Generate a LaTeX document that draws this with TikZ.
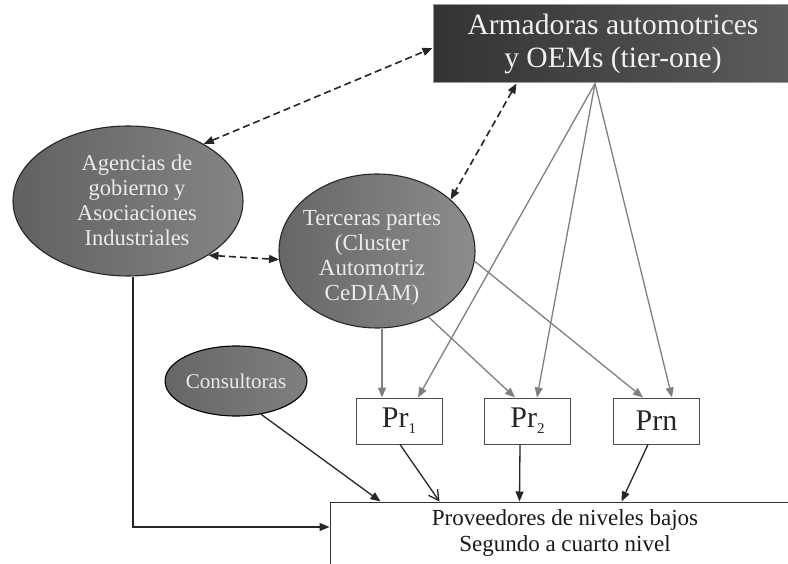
\documentclass[tikz,border=0pt]{standalone}
\usepackage{fontspec}
\setmainfont{Liberation Serif}
\usetikzlibrary{shapes.geometric,arrows.meta,calc}
\tikzset{
  ellbase/.style={ellipse, draw=black!85, line width=1.1pt, inner sep=0pt},
  txtw/.style={text=white!92!black, align=center, inner sep=0pt},
  topbox/.style={rectangle, draw=black!40, line width=1pt, left color=black!80, right color=black!64,
     minimum width=360pt, minimum height=78pt, inner sep=0pt, align=center,
     text=white!94!black, font=\fontsize{29.5}{33}\selectfont},
  prbox/.style={rectangle, draw=black!70, line width=1pt, fill=white, minimum width=86pt,
     minimum height=46pt, inner sep=0pt, font=\fontsize{30}{32}\selectfont, text=black!85},
  lowbox/.style={rectangle, draw=black!80, line width=1pt, fill=white, minimum width=470pt,
     minimum height=62pt, inner sep=0pt, align=center, text=black!90, font=\fontsize{23}{26}\selectfont},
  garrow/.style={draw=black!50, line width=1.3pt, -{Triangle[length=10pt,width=8pt]}},
  darrow/.style={draw=black!85, line width=1.6pt, dash pattern=on 7pt off 4pt,
     {Triangle[length=10pt,width=8pt]}-{Triangle[length=10pt,width=8pt]}},
  barrow/.style={draw=black!85, line width=1.3pt, -{Triangle[length=10pt,width=8pt]}},
}
\newcommand{\prsub}[1]{\raisebox{-0.45ex}{\fontsize{15}{15}\selectfont #1}}
\begin{document}
\begin{tikzpicture}[x=1pt,y=-1pt]
\useasboundingbox (0,0) rectangle (788,564);
\clip (0,0) rectangle (788,564);
\fill[white] (0,0) rectangle (788,564);

% nodes
\node[topbox] (top) at (613,44) {Armadoras automotrices\\y OEMs (tier-one)};

\node[ellbase, minimum width=230pt, minimum height=150pt, left color=black!62, right color=black!48] (agen) at (128,201) {};
\node[txtw, font=\fontsize{22.5}{25}\selectfont] (agenT) at (137,200) {Agencias de\\gobierno y\\Asociaciones\\Industriales};

\node[ellbase, minimum width=196pt, minimum height=154pt, left color=black!60, right color=black!45] (terc) at (377,251) {};
\node[txtw, font=\fontsize{23}{25}\selectfont] (tercT) at (372,258) {Terceras partes\\(Cluster\\Automotriz\\CeDIAM)};

\node[ellbase, draw=black, minimum width=140pt, minimum height=70pt, left color=black!60, right color=black!50,
      text=white!92!black, font=\fontsize{21}{24}\selectfont] (cons) at (236,381) {Consultoras};

\node[prbox] (pr1) at (399,421) {Pr\prsub{1}};
\node[prbox] (pr2) at (527.5,421) {Pr\prsub{2}};
\node[prbox] (prn) at (656.5,421) {Prn};

\node[lowbox] (low) at (565,533) {Proveedores de niveles bajos\\Segundo a cuarto nivel};

% dashed two-way connectors
\draw[darrow] (agen.37) -- ($(top.west)+(0,4)$);
\draw[darrow] ($(top.south west)+(84,0)$) -- (terc.35);
\draw[darrow] (agen.-34) -- (terc.185);

% grey arrows from the OEM box
\coordinate (src) at ($(top.south)+(-18,0)$);
\draw[garrow] (src) -- ($(pr1.north)+(19,0)$);
\draw[garrow] (src) -- ($(pr2.north)+(9.5,0)$);
\draw[garrow] (src) -- ($(prn.north)+(15.5,0)$);

% grey arrows from third parties
\coordinate (p1a) at ($(pr1.north)+(-17,0)$);
\draw[garrow] (p1a |- terc.south) -- (p1a);
\draw[garrow] (terc.-52) -- ($(pr2.north)+(-12.5,0)$);
\draw[garrow] (terc.-6) -- ($(prn.north)+(-13.5,0)$);

% black arrows to lower tiers
\draw[barrow] (cons.-53) -- ($(low.north west)+(51,0)$);
\draw[draw=black!85, line width=1.3pt, -{Straight Barb[length=10pt,width=11pt]}] ($(pr1.south)+(1,0)$) -- ($(low.north west)+(110,0)$);
\draw[barrow] ($(pr2.south)+(-7.5,0)$) -- ($(low.north west)+(190,0)$);
\draw[barrow] ($(prn.south)+(-8.5,0)$) -- ($(low.north west)+(292,0)$);
\draw[barrow] ($(agen.south)+(5,0)$) |- ($(low.west)+(0,-6)$);
\end{tikzpicture}
\end{document}
